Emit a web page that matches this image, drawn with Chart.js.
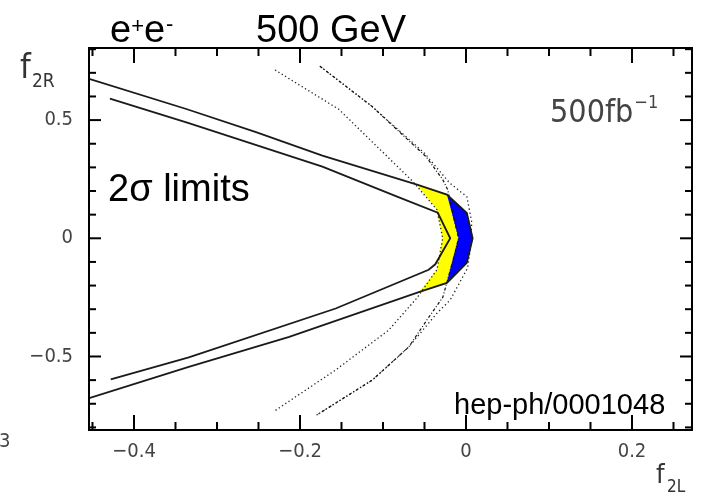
<!DOCTYPE html>
<html>
<head>
<meta charset="utf-8">
<script src="https://cdn.jsdelivr.net/npm/chart.js@4/dist/chart.umd.min.js"></script>
<style>
  html, body { margin: 0; padding: 0; background: #fff; }
  #wrap { width: 702px; height: 495px; position: relative; }
</style>
</head>
<body>
<div id="wrap"><canvas id="c" width="702" height="495"></canvas></div>
<script>
// Axis ranges and ticks (f2L horizontal, f2R vertical)
const X_RANGE = [-0.4542, 0.2723];
const Y_RANGE = [-0.811, 0.805];
const X_LABELS = [-0.4, -0.2, 0, 0.2];
const Y_LABELS = [-0.5, 0, 0.5];
const X_MINOR = [-0.45, -0.35, -0.3, -0.25, -0.15, -0.1, -0.05, 0.05, 0.1, 0.15, 0.25];
const Y_MINOR = [-0.8, -0.7, -0.6, -0.4, -0.3, -0.2, -0.1, 0.1, 0.2, 0.3, 0.4, 0.6, 0.7, 0.8];

// Outer solid contour
const OUTER_F2L = [-0.454, -0.337, -0.253, -0.173, -0.059, -0.023, 0.001, 0.008, 0.001, -0.023, -0.056, -0.213, -0.334, -0.454];
const OUTER_F2R = [0.674, 0.547, 0.449, 0.350, 0.227, 0.185, 0.107, 0.0, -0.104, -0.189, -0.227, -0.417, -0.544, -0.676];

// Inner solid contour
const INNER_F2L = [-0.429, -0.334, -0.173, -0.083, -0.034, -0.019, -0.037, -0.045, -0.157, -0.334, -0.428];
const INNER_F2R = [0.591, 0.487, 0.303, 0.176, 0.108, 0.0, -0.110, -0.133, -0.297, -0.504, -0.597];

// Fine dotted contour
const DOT_F2L = [-0.230, -0.153, -0.064, -0.035, -0.028, -0.035, -0.059, -0.093, -0.157, -0.230];
const DOT_F2R = [0.712, 0.545, 0.240, 0.121, 0.0, -0.133, -0.252, -0.388, -0.557, -0.729];

// Dash-dot contour
const DASH_F2L = [-0.176, -0.113, -0.048, -0.028, -0.022, -0.013, -0.009, -0.013, -0.028, -0.047, -0.069, -0.113, -0.180];
const DASH_F2R = [0.728, 0.557, 0.345, 0.248, 0.205, 0.06, 0.0, -0.06, -0.250, -0.345, -0.460, -0.600, -0.748];

// Outer dotted contour
const ODOT_F2L = [-0.176, -0.113, -0.050, -0.020, 0.001, 0.007, 0.005, 0.002, -0.019, -0.035, -0.069, -0.113, -0.180];
const ODOT_F2R = [0.728, 0.557, 0.360, 0.235, 0.176, 0.068, -0.050, -0.125, -0.261, -0.317, -0.460, -0.600, -0.748];

// Shaded regions
const YELLOW_F2L = [-0.059, -0.023, -0.009, -0.023, -0.056, -0.035, -0.028, -0.035];
const YELLOW_F2R = [0.227, 0.185, 0.0, -0.189, -0.227, -0.133, 0.0, 0.121];
const BLUE_F2L = [-0.023, 0.001, 0.008, 0.001, -0.023, -0.009];
const BLUE_F2R = [0.185, 0.107, 0.0, -0.104, -0.189, 0.0];

const pts = (xs, ys) => xs.map((v, i) => ({ x: v, y: ys[i] }));
const near = (arr, v) => arr.some(a => Math.abs(a - v) < 1e-9);
const fmt = v => (v < 0 ? '\u2212' : '') + String(Math.abs(v));

const TICK_FONT = "'DejaVu Sans Condensed', 'DejaVu Sans', sans-serif";
const ARIAL = "'Liberation Sans', Arial, sans-serif";

const frame = {
  id: 'frame',
  afterDraw(chart) {
    const { ctx, chartArea: a, scales: { x, y } } = chart;
    ctx.save();
    ctx.strokeStyle = '#000';
    ctx.lineWidth = 2;
    ctx.strokeRect(a.left, a.top, a.right - a.left, a.bottom - a.top);
    const seg = (x1, y1, x2, y2) => { ctx.beginPath(); ctx.moveTo(x1, y1); ctx.lineTo(x2, y2); ctx.stroke(); };
    X_LABELS.concat(X_MINOR).forEach(v => {
      const p = x.getPixelForValue(v);
      const len = near(X_LABELS, v) ? 15 : 8;
      seg(p, a.bottom, p, a.bottom - len);
      seg(p, a.top, p, a.top + len);
    });
    Y_LABELS.concat(Y_MINOR).forEach(v => {
      const p = y.getPixelForValue(v);
      const len = near(Y_LABELS, v) ? 12 : 7;
      seg(a.left, p, a.left + len, p);
      seg(a.right, p, a.right - len, p);
    });
    ctx.restore();
  }
};

const texts = {
  id: 'texts',
  afterDraw(chart) {
    const { ctx } = chart;
    ctx.save();
    ctx.textBaseline = 'alphabetic';
    ctx.textAlign = 'left';
    ctx.fillStyle = '#000';

    // e+e- heading
    let cx = 110;
    const big = '38px ' + ARIAL, sup = '22px ' + ARIAL;
    ctx.font = big; ctx.fillText('e', cx, 42); cx += ctx.measureText('e').width;
    ctx.font = sup; ctx.fillText('+', cx, 33); cx += ctx.measureText('+').width;
    ctx.font = big; ctx.fillText('e', cx, 42); cx += ctx.measureText('e').width;
    ctx.font = sup; ctx.fillText('-', cx + 1, 31);
    ctx.font = big; ctx.fillText('500 GeV', 256, 42);

    // axis titles
    ctx.fillStyle = '#333';
    ctx.font = '34px ' + TICK_FONT; ctx.fillText('f', 20, 78);
    ctx.font = '19px ' + TICK_FONT; ctx.fillText('2R', 32, 87);
    ctx.font = '27px ' + TICK_FONT; ctx.fillText('f', 656, 483);
    ctx.font = '17px ' + TICK_FONT; ctx.fillText('2L', 667, 492);

    // luminosity
    ctx.fillStyle = '#444';
    ctx.font = '32px ' + TICK_FONT; ctx.fillText('500fb', 550, 122);
    const w = ctx.measureText('500fb').width;
    ctx.font = '18px ' + TICK_FONT; ctx.fillText('\u22121', 550 + w + 1, 108);

    // stray label at the lower-left edge
    ctx.fillStyle = '#444';
    ctx.font = '20px ' + TICK_FONT; ctx.fillText('3', -1, 447);

    // annotations
    ctx.fillStyle = '#000';
    ctx.font = '38px ' + ARIAL; ctx.fillText('2\u03c3 limits', 108, 201);
    ctx.font = '29px ' + ARIAL; ctx.fillText('hep-ph/0001048', 454, 414);
    ctx.restore();
  }
};

const lineSet = (data, color, width, dash, order) => ({
  data, showLine: true, borderColor: color, borderWidth: width,
  borderDash: dash, pointRadius: 0, fill: false, tension: 0, order
});
const areaSet = (data, color, order) => ({
  data, showLine: true, borderColor: color, borderWidth: 0.6,
  backgroundColor: color, pointRadius: 0, fill: 'shape', tension: 0, order
});

new Chart(document.getElementById('c'), {
  type: 'scatter',
  data: {
    datasets: [
      areaSet(pts(YELLOW_F2L, YELLOW_F2R), '#ffff00', 10),
      areaSet(pts(BLUE_F2L, BLUE_F2R), '#0000ff', 9),
      lineSet(pts(DOT_F2L, DOT_F2R), '#222', 1.3, [1.3, 2.6], 3),
      lineSet(pts(ODOT_F2L, ODOT_F2R), '#222', 1.3, [1.3, 2.8], 3),
      lineSet(pts(DASH_F2L, DASH_F2R), '#111', 1.2, [3, 2, 1, 2], 2),
      lineSet(pts(OUTER_F2L, OUTER_F2R), '#1a1a1a', 1.8, [], 1),
      lineSet(pts(INNER_F2L, INNER_F2R), '#1a1a1a', 1.8, [], 1)
    ]
  },
  options: {
    responsive: false,
    animation: false,
    layout: { padding: { left: 0, top: 48, right: 10, bottom: 0 } },
    plugins: { legend: { display: false }, tooltip: { enabled: false } },
    scales: {
      x: {
        type: 'linear', min: X_RANGE[0], max: X_RANGE[1],
        grid: { display: false, drawTicks: false },
        border: { display: false },
        afterBuildTicks: s => { s.ticks = X_LABELS.map(v => ({ value: v })); },
        afterFit: s => { s.height = 65; },
        ticks: { callback: v => fmt(v), color: '#444', padding: 10,
                 font: { family: TICK_FONT, size: 20 }, maxRotation: 0 }
      },
      y: {
        type: 'linear', min: Y_RANGE[0], max: Y_RANGE[1],
        grid: { display: false, drawTicks: false },
        border: { display: false },
        afterBuildTicks: s => { s.ticks = Y_LABELS.map(v => ({ value: v })); },
        afterFit: s => { s.width = 89; },
        ticks: { callback: v => fmt(v), color: '#444', padding: 16,
                 font: { family: TICK_FONT, size: 20 } }
      }
    }
  },
  plugins: [frame, texts]
});
</script>
</body>
</html>
